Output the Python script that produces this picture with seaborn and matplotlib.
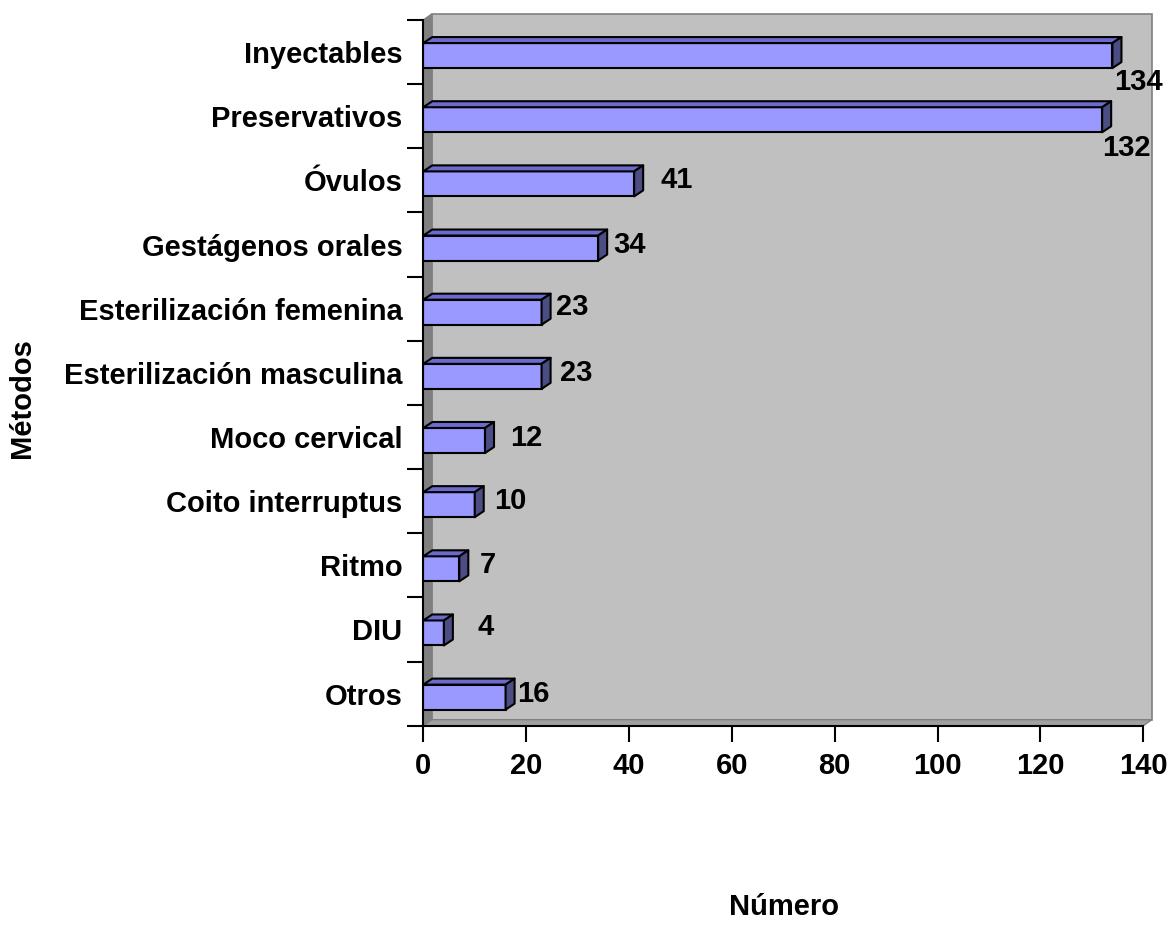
import numpy as np
import pandas as pd
import matplotlib
matplotlib.use("Agg")
import matplotlib.pyplot as plt
import matplotlib.transforms as mtransforms
from matplotlib.patches import Polygon
import seaborn as sns

# Contraceptive methods and number of users
metodos = ["Inyectables", "Preservativos", "Óvulos", "Gestágenos orales",
           "Esterilización femenina", "Esterilización masculina", "Moco cervical",
           "Coito interruptus", "Ritmo", "DIU", "Otros"]
numero = [134, 132, 41, 34, 23, 23, 12, 10, 7, 4, 16]
x_ticks = [0, 20, 40, 60, 80, 100, 120, 140]

# value-label placement relative to the bar end (pixels, right / down)
label_dx = [2, 0, 26, 15, 14, 18, 25, 19, 20, 34, 12]
label_dy = [30, 32, 0, 0, -2, 0, 1, 0, 0, -2, 0]

FACE = "#9999FF"
TOP = "#6B6BCC"
SIDE = "#4D4D85"
WALL = "#C0C0C0"
WALL_SIDE = "#808080"
FLOOR = "#A0A0A0"
FS = 21

sns.set_theme(style="white")
plt.rcParams["font.family"] = ["Liberation Sans", "DejaVu Sans"]
plt.rcParams["font.weight"] = "bold"
for key in ["text.color", "axes.labelcolor", "xtick.color", "ytick.color"]:
    plt.rcParams[key] = "black"

W, H = 1172, 927
fig = plt.figure(figsize=(W / 100, H / 100), dpi=100)
ax = fig.add_axes([423.3 / W, 1 - 725.7 / H, 720 / W, 705.7 / H])
ax.set_facecolor("none")

df = pd.DataFrame({"Método": metodos, "Número": numero})
sns.barplot(data=df, x="Número", y="Método", orient="h", color=FACE,
            saturation=1, width=0.39, edgecolor="black", linewidth=1.5,
            ax=ax, zorder=3)

ax.set_xlim(0, 140)
ax.set_ylim(len(metodos) - 0.5, -0.5)
ax.set_xlabel("")
ax.set_ylabel("")

# category boundaries carry the tick marks, centres carry the labels
ax.set_yticks(np.arange(-0.5, len(metodos), 1.0))
ax.set_yticklabels([])
ax.set_yticks(np.arange(len(metodos)), minor=True)
ax.set_yticklabels(metodos, minor=True, fontsize=FS, fontweight="bold", color="black")
ax.tick_params(axis="y", which="major", left=True, length=11.5, width=1.5,
               color="black", direction="out")
ax.tick_params(axis="y", which="minor", left=True, length=0, pad=15)
ax.set_xticks(x_ticks)
ax.set_xticklabels([str(t) for t in x_ticks], fontsize=FS, fontweight="bold", color="black")
ax.tick_params(axis="x", bottom=True, length=11.5, width=1.5, color="black",
               direction="out", pad=7.5)

for s in ["top", "right"]:
    ax.spines[s].set_visible(False)
for s in ["left", "bottom"]:
    ax.spines[s].set_color("black")
    ax.spines[s].set_linewidth(1.5)
    ax.spines[s].set_zorder(4)

ident = mtransforms.IdentityTransform()

# back wall, side wall and floor of the 3-D box
wdx, wdy = 8.5, 6
bx0, by0, bx1, by1 = ax.bbox.x0, ax.bbox.y0, ax.bbox.x1, ax.bbox.y1
ax.add_patch(Polygon([(bx0 + wdx, by0 + wdy), (bx1 + wdx, by0 + wdy),
                      (bx1 + wdx, by1 + wdy), (bx0 + wdx, by1 + wdy)],
                     closed=True, facecolor=WALL, edgecolor=WALL_SIDE, lw=1.2,
                     transform=ident, clip_on=False, zorder=0.5))
ax.add_patch(Polygon([(bx0, by0), (bx0, by1), (bx0 + wdx, by1 + wdy),
                      (bx0 + wdx, by0 + wdy)],
                     closed=True, facecolor=WALL_SIDE, edgecolor=WALL_SIDE, lw=1,
                     transform=ident, clip_on=False, zorder=0.6))
ax.add_patch(Polygon([(bx0, by0), (bx1, by0), (bx1 + wdx, by0 + wdy),
                      (bx0 + wdx, by0 + wdy)],
                     closed=True, facecolor=FLOOR, edgecolor=WALL_SIDE, lw=1,
                     transform=ident, clip_on=False, zorder=0.6))

# give each bar a top and a side face
bdx, bdy = 9, 6
shift = mtransforms.ScaledTranslation(0, -3.5 / 100, fig.dpi_scale_trans)
for p in list(ax.patches):
    if not hasattr(p, "get_width") or p.get_zorder() != 3:
        continue
    p.set_transform(ax.transData + shift)
    corners = (ax.transData + shift).transform(
        [(p.get_x(), p.get_y()), (p.get_x() + p.get_width(), p.get_y() + p.get_height())])
    xl, xr = corners[:, 0].min(), corners[:, 0].max()
    yb, yt = corners[:, 1].min(), corners[:, 1].max()
    ax.add_patch(Polygon([(xl, yt), (xr, yt), (xr + bdx, yt + bdy), (xl + bdx, yt + bdy)],
                         closed=True, facecolor=TOP, edgecolor="black", lw=1.5,
                         joinstyle="round", transform=ident, clip_on=False, zorder=3))
    ax.add_patch(Polygon([(xr, yb), (xr, yt), (xr + bdx, yt + bdy), (xr + bdx, yb + bdy)],
                         closed=True, facecolor=SIDE, edgecolor="black", lw=1.5,
                         joinstyle="round", transform=ident, clip_on=False, zorder=3))

# value labels
for i, v in enumerate(numero):
    ax.annotate(str(v), xy=(v, i), xytext=(label_dx[i], -label_dy[i]),
                textcoords="offset pixels", ha="left", va="center",
                fontsize=FS, fontweight="bold", color="black", zorder=5,
                annotation_clip=False)

fig.text(784 / W, 1 - 907 / H, "Número", ha="center", va="center",
         fontsize=FS, fontweight="bold", color="black")
fig.text(22 / W, 1 - 398 / H, "Métodos", ha="center", va="center",
         rotation=90, fontsize=FS, fontweight="bold", color="black")

fig.savefig("out.png", dpi=100, facecolor="white")
